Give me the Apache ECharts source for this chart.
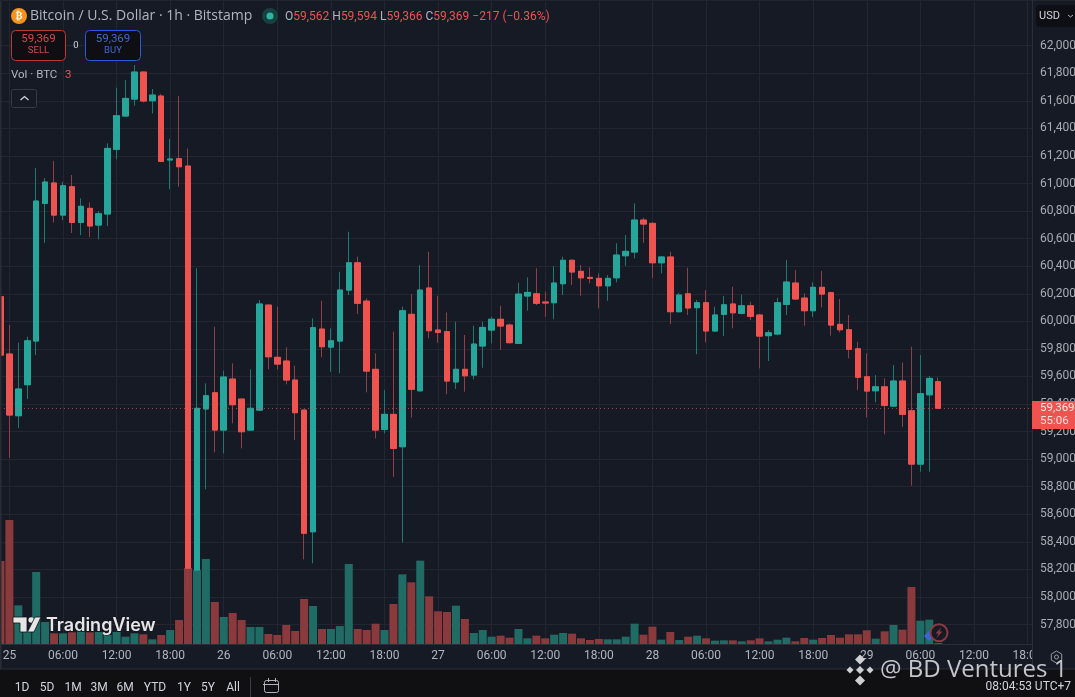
<!DOCTYPE html>
<html><head><meta charset="utf-8">
<style>html,body{margin:0;padding:0;background:#161a25;overflow:hidden}#c{position:absolute;left:-4px;top:0;width:1079px;height:697px}</style>
<script src="https://cdn.jsdelivr.net/npm/echarts@6/dist/echarts.min.js"></script>
</head><body><div id="c"></div>
<script>
const opens=[60179,59763,59315,59540,59857,60856,61004,60771,60977,60718,60820,60699,60779,61248,61490,61613,61809,61601,61635,61171,61180,61127,58195,59364,59482,59211,59581,59436,59211,59356,60118,59739,59712,59574,59356,58473,59944,59813,59857,60227,60425,60147,59652,59216,59325,59090,60051,59496,60242,59937,59925,59560,59652,59610,59821,59937,60015,59973,59840,60184,60200,60140,60135,60273,60443,60363,60319,60312,60258,60316,60476,60503,60735,60711,60425,60467,60070,60200,60099,60135,59930,60051,60126,60058,60113,60046,59896,59908,60123,60278,60169,60077,60247,60208,59978,59939,59801,59598,59496,59525,59385,59567,59351,58964,59467,59562];
const closes=[59755,59320,59509,59859,60873,61011,60771,60984,60718,60835,60692,60781,61255,61492,61618,61809,61599,61642,61161,61178,61122,58208,59369,59460,59211,59596,59395,59199,59369,60126,59743,59690,59574,59337,58462,59954,59816,59859,60227,60425,60131,59639,59211,59325,59078,60077,59507,60227,59932,59920,59567,59652,59605,59835,59956,60015,59966,59845,60198,60210,60131,60133,60278,60443,60358,60316,60312,60258,60312,60481,60508,60735,60706,60425,60467,60070,60191,60097,60135,59930,60046,60120,60062,60113,60036,59893,59917,60135,60285,60162,60077,60247,60198,59973,59939,59797,59594,59494,59525,59390,59567,59325,58964,59475,59586,59369];
const lows=[59740,59010,59226,59436,59755,60570,60718,60735,60641,60626,60610,60595,60692,61176,61485,61565,61589,61509,61155,60958,60977,58038,58190,58781,59049,59042,59260,59078,59205,59350,59652,59652,59543,59139,58273,58244,59739,59634,59623,60191,60053,59485,59151,59187,58872,58396,59302,59490,59877,59845,59472,59509,59489,59579,59663,59840,59792,59840,59835,60077,60118,60033,60015,60191,60263,60186,60276,60094,60149,60283,60403,60457,60570,60316,60348,59980,60065,60046,59761,59848,59925,59893,59949,60050,60009,59659,59712,59900,60046,60155,59968,60033,60102,59896,59920,59731,59501,59303,59412,59180,59380,59235,58807,58909,58909,59366];
const highs=[60190,59973,59845,59888,61112,61040,61165,61013,61062,60893,60864,60800,61292,61695,61751,61860,61815,61686,61650,61323,61635,61255,60385,59550,59961,59642,59695,59440,59652,60155,60122,60106,59811,59678,59360,60022,60149,59949,60360,60650,60469,60167,59768,59501,59925,60106,60198,60409,60505,60186,60065,59997,59901,59968,59997,60033,60113,59985,60280,60319,60385,60215,60401,60469,60450,60409,60392,60348,60336,60566,60626,60856,60752,60720,60475,60505,60208,60389,60155,60227,60106,60184,60251,60193,60142,60050,59937,60171,60445,60372,60203,60283,60365,60215,60162,60046,59852,59768,59610,59586,59683,59702,59816,59755,59603,59594];
const volumes=[249,372,116,42,216,66,32,32,35,37,35,36,27,36,22,32,29,14,27,42,72,228,222,255,126,81,93,72,51,51,30,27,57,39,135,114,45,45,54,240,45,42,61,42,120,209,185,250,143,98,96,115,75,33,42,22,25,19,45,17,25,17,28,33,31,17,12,15,14,14,22,61,28,52,13,36,12,22,25,17,10,11,11,8,11,17,8,13,19,8,18,13,18,27,19,29,29,41,16,38,57,43,171,70,73,3];
const priceTicks=[57800,58000,58200,58400,58600,58800,59000,59200,59400,59600,59800,60000,60200,60400,60600,60800,61000,61200,61400,61600,61800,62000];
const rangeButtons=[["1D",22],["5D",47],["1M",73],["3M",99],["6M",125],["YTD",155],["1Y",184],["5Y",208],["All",233]];
const lastPrice=59369;
// hourly categories: 116 slots starting 24th 23:00 (the last ones are empty future space)
const categories=[];
for(let k=0,d=24,h=23;k<116;k++){categories.push({d,h});h++;if(h===24){h=0;d++;}}
const catNames=categories.map(c=>c.h===0?String(c.d):(c.h<10?'0':'')+c.h+':00');
const isTick=i=>categories[i].h%6===0;
const RED='#ef5350',TEAL='#26a69a',RW='#8f4046',TW='#1d7a72',RV='#8a393d',TV='#206c65',BG='#161a25',GRID='#232631',TXT='#b2b5be',FONT='Roboto,sans-serif';
const chart=echarts.init(document.getElementById('c'),null,{renderer:'canvas'});
const T=(x,y,text,o={})=>({type:'text',z:200,x,y,silent:true,style:Object.assign({text,fill:TXT,font:'12px '+FONT,textAlign:'left',textVerticalAlign:'middle'},o)});
const R=(x,y,w,h,o={},r=0)=>({type:'rect',z:200,silent:true,shape:{x,y,width:w,height:h,r},style:o});
const P=(pts,o)=>({type:'polygon',z:200,silent:true,shape:{points:pts},style:o});
const C=(cx,cy,r,o)=>({type:'circle',z:200,silent:true,shape:{cx,cy,r},style:o});
const Diamond=(cx,cy,s,fill)=>P([[cx,cy-s],[cx+s,cy],[cx,cy+s],[cx-s,cy]],{fill});
const graphics=[
 // frame edges
 R(0,0,1.5,697,{fill:'#2b2d33'}),R(0,0,1075,1,{fill:'#22252d'}),
 // price axis pane over the x-axis slot
 R(1032,644,43,25,{fill:BG}),
 R(1032,0,1,669,{fill:'#2a2e39'}),
 // header
 C(19,16,8,{fill:'#f7931a'}),T(19,16.5,'₿',{fill:'#fff',font:'bold 10px "DejaVu Sans"',textAlign:'center'}),
 T(30,16.5,'Bitcoin / U.S. Dollar · 1h · Bitstamp',{font:'14px "Open Sans",'+FONT,fill:'#b2b5be'}),
 C(270,16,8,{fill:'#18403f'}),C(270,16,3.5,{fill:'#2bb5a5'}),
 {type:'text',z:200,x:285,y:16.5,silent:true,style:{text:'{g|O}{r|59,562} {g|H}{r|59,594} {g|L}{r|59,366} {g|C}{r|59,369} {r|−217 (−0.36%)}',textVerticalAlign:'middle',font:'12px '+FONT,rich:{g:{fill:TXT,font:'12px '+FONT},r:{fill:RED,font:'12px '+FONT}}}},
 // sell / buy
 R(11.5,30.5,54,30,{fill:'#0f0f13',stroke:'#b83b3c',lineWidth:1},4),
 T(38.5,39.5,'59,369',{fill:'#d9474a',font:'11.5px '+FONT,textAlign:'center'}),T(38.5,51,'SELL',{fill:'#d9474a',font:'9.5px '+FONT,textAlign:'center'}),
 T(76,45.5,'0',{fill:'#d1d4dc',font:'9.5px '+FONT,textAlign:'center'}),
 R(85.5,30.5,55,30,{fill:'#0f0f13',stroke:'#2f57d8',lineWidth:1},4),
 T(113,39.5,'59,369',{fill:'#3f68d8',font:'11.5px '+FONT,textAlign:'center'}),T(113,51,'BUY',{fill:'#3f68d8',font:'9.5px '+FONT,textAlign:'center'}),
 T(11,75,'Vol · BTC',{font:'11.5px '+FONT}),T(65,75,'3',{fill:RED,font:'11.5px '+FONT}),
 R(11.5,89.5,25,18,{fill:BG,stroke:'#363a45',lineWidth:1},2),
 {type:'polyline',z:200,silent:true,shape:{points:[[20.5,100],[24.5,96.5],[28.5,100]]},style:{stroke:'#d1d4dc',lineWidth:1.3,fill:null}},
 // USD
 R(1036,5,45,22,{fill:'#0e0f14'},4),T(1039,16,'USD',{fill:'#d1d4dc',font:'11px '+FONT}),
 {type:'polyline',z:200,silent:true,shape:{points:[[1068,15],[1070.5,17],[1073,15]]},style:{stroke:'#b2b5be',lineWidth:1,fill:null}},
 // price tag
 R(1032,401,43,28,{fill:RED}),
 T(1040,408,'59,369',{fill:'#ffe9e7',font:'11.5px '+FONT}),T(1040,421,'55:06',{fill:'#ffe0dd',font:'11.5px '+FONT}),
 // TradingView logo
 P([[13,617],[27,617],[27,632],[20,632],[20,623],[13,623]],{fill:'#e6e6e6',stroke:'#10131a',lineWidth:.8}),
 C(31.2,620,2.8,{fill:'#e6e6e6'}),
 P([[35,617],[41,617],[34,632],[27.5,632]],{fill:'#e6e6e6',stroke:'#10131a',lineWidth:.8}),
 T(46,625.5,'TradingView',{fill:'#e6e6e6',font:'600 18px Inter,'+FONT,stroke:'#10131a',lineWidth:1}),
 // lightning icon
 Diamond(929,636,5,'#3f63d8'),
 C(939,632.7,8.5,{fill:BG,stroke:'#8a3b40',lineWidth:2}),
 P([[941,627.5],[935.5,633.5],[938.5,633.5],[936.5,638],[942.5,631.5],[939.5,631.5]],{fill:'#8a3b40'}),
 // gear
 P([[1056.5,651],[1061.7,654],[1061.7,660],[1056.5,663],[1051.3,660],[1051.3,654]],{fill:'none',stroke:'#9598a1',lineWidth:1}),
 C(1056.5,657,2,{fill:'none',stroke:'#9598a1',lineWidth:1}),
 // bottom toolbar
 R(0,669,1075,28,{fill:'#101012'}),R(0,668.5,1075,1,{fill:'#2a2e39'}),
 R(250,677,1,20,{fill:'#3a3d45'}),
 R(264.5,680.5,14,12,{fill:'none',stroke:'#b2b5be',lineWidth:1},2),R(263,684,16,1,{fill:'#b2b5be'}),
 R(268,678,1,4,{fill:'#b2b5be'}),R(275,678,1,4,{fill:'#b2b5be'}),
 ...rangeButtons.map(b=>T(b[1],688,b[0],{fill:'#d1d4dc',font:'12px '+FONT,textAlign:'center'})),
 T(1071,687,'08:04:53 UTC+7',{fill:'#d1d4dc',font:'12px '+FONT,textAlign:'right'}),
 // watermark
 Diamond(860,670,4,'#cfd0d2'),Diamond(860,659.5,5,'#cfd0d2'),Diamond(860,680.5,5,'#cfd0d2'),Diamond(850,670,3.5,'#cfd0d2'),Diamond(870,670,3.5,'#cfd0d2'),
 T(880,670.5,'@ BD Ventures 1',{fill:'#c4c6ca',font:'24px "Open Sans",'+FONT})
];
chart.setOption({
 animation:false,backgroundColor:BG,
 grid:{left:0,right:43,top:0,bottom:53,outerBoundsMode:'none'},
 xAxis:{type:'category',data:catNames,boundaryGap:true,
  axisLine:{show:true,lineStyle:{color:'#2a2e39'}},axisTick:{show:false},
  splitLine:{show:true,alignWithLabel:true,interval:(i)=>isTick(i),lineStyle:{color:GRID,width:1}},
  axisLabel:{interval:(i)=>isTick(i),color:TXT,fontFamily:FONT,fontSize:12,margin:6,hideOverlap:false,showMinLabel:true}},
 yAxis:[
  {type:'value',position:'right',min:57658.6,max:62332,scale:true,
   axisLine:{show:false},axisTick:{show:false,customValues:priceTicks},
   splitLine:{show:true,lineStyle:{color:GRID,width:1}},
   axisLabel:{customValues:priceTicks,color:'#a9acb4',fontFamily:FONT,fontSize:12,margin:8,formatter:v=>v.toLocaleString('en-US')}},
  {type:'value',min:0,max:1932,show:false,splitLine:{show:false}}
 ],
 series:[
  {type:'bar',name:'Vol',yAxisIndex:1,data:volumes,barWidth:8,z:1,silent:true,
   itemStyle:{color:p=>opens[p.dataIndex]>closes[p.dataIndex]?RV:TV}},
  {type:'candlestick',name:'wicks',z:2,barWidth:6,silent:true,
   data:opens.map((o,i)=>[o,closes[i],lows[i],highs[i]]),
   itemStyle:{color:TW,color0:RW,borderColor:TW,borderColor0:RW,borderWidth:1},
   markLine:{symbol:'none',silent:true,label:{show:false},animation:false,
    lineStyle:{color:'#c9504f',type:[1,3],width:1,opacity:.75},data:[{yAxis:lastPrice}]}},
  {type:'candlestick',name:'bodies',z:3,barWidth:6,silent:true,
   data:opens.map((o,i)=>[o,closes[i],Math.min(o,closes[i]),Math.max(o,closes[i])]),
   itemStyle:{color:TEAL,color0:RED,borderColor:TEAL,borderColor0:RED,borderWidth:1}}
 ],
 graphic:[{type:'group',x:4,y:0,children:graphics}]
});
</script></body></html>
